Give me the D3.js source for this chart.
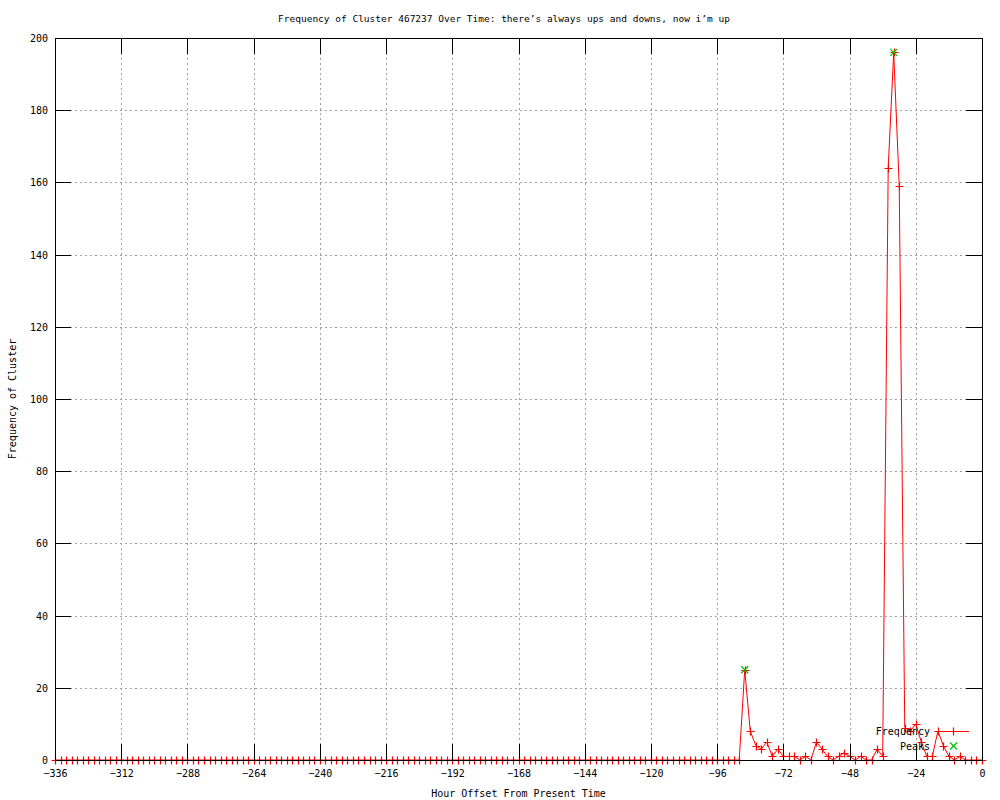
<!DOCTYPE html>
<html>
<head>
	<meta charset="utf-8">
	<title>Frequency of Cluster 467237</title>
	<style>
		body { margin: 0; background: #fff; }
		text { font-family: "DejaVu Sans Mono", monospace; font-size: 10px; fill: #000; }
	</style>
</head>
<body>
	<script src="https://d3js.org/d3.v7.min.js"></script>

<script>

	var width = 1000,
	height = 800,
	margin = {top: 38, right: 18, bottom: 40, left: 55},
	freqColor = "#ff0000",
	peakColor = "#00c000",
	gridColor = "#a0a0a0",
	tickLen = 16;

	// hours offset, every 2 hours from -336 up to 0
	var hours = d3.range(-336, 1, 2);

	// frequency per 2-hour bucket
	var frequency = [
		0,0,0,0,0, 0,0,0,0,0, 0,0,0,0,0, 0,0,0,0,0, 0,0,0,0,0,
		0,0,0,0,0, 0,0,0,0,0, 0,0,0,0,0, 0,0,0,0,0, 0,0,0,0,0,
		0,0,0,0,0, 0,0,0,0,0, 0,0,0,0,0, 0,0,0,0,0, 0,0,0,0,0,
		0,0,0,0,0, 0,0,0,0,0, 0,0,0,0,0, 0,0,0,0,0, 0,0,0,0,0,
		0,0,0,0,0, 0,0,0,0,0, 0,0,0,0,0, 0,0,0,0,0, 0,0,0,0,0,
		25,8,4,3,5, 1,3,1,1,1, 0,1,0,5,3, 1,0,1,2,1, 0,1,0,0,3,
		1,164,196,159,9, 8,10,5,1,1, 8,4,1,0,1, 0,0,0,0
	];

	var peakHours = [-86, -32],
	peakValues = [25, 196];

	var xTicks = [-336, -312, -288, -264, -240, -216, -192, -168, -144, -120, -96, -72, -48, -24, 0],
	yTicks = [0, 20, 40, 60, 80, 100, 120, 140, 160, 180, 200];

	var titleText = "Frequency of Cluster 467237 Over Time: there\u2019s always ups and downs, now i\u2019m up",
	xLabel = "Hour Offset From Present Time",
	yLabel = "Frequency of Cluster",
	legendNames = ["Frequency", "Peaks"];

	var x = d3.scaleLinear().domain([-336, 0]).range([margin.left, width - margin.right]),
	y = d3.scaleLinear().domain([0, 200]).range([height - margin.bottom, margin.top]);

	var svg = d3.select("body").append("svg")
		.attr("width", width)
		.attr("height", height);

	var plotL = x.range()[0], plotR = x.range()[1],
	plotT = y.range()[1], plotB = y.range()[0];

	//grid lines (dotted)
	var grid = svg.append("g").attr("shape-rendering", "crispEdges")
		.attr("stroke", gridColor).attr("stroke-dasharray", "2,3");
	grid.selectAll(".gx").data(xTicks.slice(1, -1)).enter().append("line")
		.attr("x1", function (d) { return Math.round(x(d)) + 0.5; })
		.attr("x2", function (d) { return Math.round(x(d)) + 0.5; })
		.attr("y1", plotT).attr("y2", plotB);
	grid.selectAll(".gy").data(yTicks.slice(1, -1)).enter().append("line")
		.attr("y1", function (d) { return Math.round(y(d)) + 0.5; })
		.attr("y2", function (d) { return Math.round(y(d)) + 0.5; })
		.attr("x1", plotL).attr("x2", plotR);

	//data line
	var pts = hours.map(function (h, i) { return [h, frequency[i]]; });
	var line = d3.line()
		.x(function (d) { return x(d[0]); })
		.y(function (d) { return y(d[1]); });

	svg.append("path").datum(pts)
		.attr("fill", "none")
		.attr("stroke", freqColor)
		.attr("stroke-width", 1)
		.attr("d", line);

	function plus(cx, cy) { return "M" + (cx - 4) + "," + cy + "H" + (cx + 4) + "M" + cx + "," + (cy - 4) + "V" + (cy + 4); }
	function cross(cx, cy) { return "M" + (cx - 3.5) + "," + (cy - 3.5) + "L" + (cx + 3.5) + "," + (cy + 3.5) + "M" + (cx - 3.5) + "," + (cy + 3.5) + "L" + (cx + 3.5) + "," + (cy - 3.5); }

	svg.append("g").selectAll("path").data(pts).enter().append("path")
		.attr("stroke", freqColor).attr("stroke-width", 1.2).attr("fill", "none")
		.attr("d", function (d) { return plus(Math.round(x(d[0])) + 0.5, Math.round(y(d[1])) + 0.5); });

	svg.append("g").selectAll("path").data(peakHours).enter().append("path")
		.attr("stroke", peakColor).attr("stroke-width", 1.2).attr("fill", "none")
		.attr("d", function (d, i) { return cross(x(d), y(peakValues[i])); });

	//axes with inward ticks on all four sides
	var xAxis = d3.axisBottom(x).tickValues(xTicks).tickSize(-tickLen).tickPadding(10).tickSizeOuter(0);
	var yAxis = d3.axisLeft(y).tickValues(yTicks).tickSize(-tickLen).tickPadding(7).tickSizeOuter(0);

	var gx = svg.append("g").attr("transform", "translate(0," + plotB + ")").call(xAxis);
	var gy = svg.append("g").attr("transform", "translate(" + plotL + ",0)").call(yAxis);
	var gx2 = svg.append("g").attr("transform", "translate(0," + plotT + ")").call(d3.axisTop(x).tickValues(xTicks).tickSize(-tickLen).tickFormat(""));
	var gy2 = svg.append("g").attr("transform", "translate(" + plotR + ",0)").call(d3.axisRight(y).tickValues(yTicks).tickSize(-tickLen).tickFormat(""));

	[gx, gy, gx2, gy2].forEach(function (g) {
		g.select(".domain").remove();
		g.selectAll("line").attr("stroke", "#000").attr("shape-rendering", "crispEdges");
		g.selectAll("text").attr("font-family", "DejaVu Sans Mono, monospace").attr("font-size", 10).attr("fill", "#000");
	});
	gx.selectAll("text").text(function (d) { return d < 0 ? "\u2212" + Math.abs(d) : d; }).attr("dy", "0.71em");
	gy.selectAll("text").attr("dy", "0.35em");

	//border
	svg.append("rect")
		.attr("x", plotL + 0.5).attr("y", plotT + 0.5)
		.attr("width", plotR - plotL).attr("height", plotB - plotT)
		.attr("fill", "none").attr("stroke", "#000").attr("shape-rendering", "crispEdges");

	//legend
	var legend = svg.append("g");
	legend.append("text").attr("x", 930).attr("y", 735).attr("text-anchor", "end").text(legendNames[0]);
	legend.append("line").attr("x1", 937).attr("x2", 969).attr("y1", 731.5).attr("y2", 731.5).attr("stroke", freqColor);
	legend.append("path").attr("stroke", freqColor).attr("stroke-width", 1.2).attr("d", plus(953.5, 731.5));
	legend.append("text").attr("x", 930).attr("y", 750).attr("text-anchor", "end").text(legendNames[1]);
	legend.append("path").attr("stroke", peakColor).attr("stroke-width", 1.2).attr("d", cross(953.5, 746));

	//titles
	svg.append("text").attr("x", 504).attr("y", 22).attr("text-anchor", "middle").style("font-size", "9.5px").text(titleText);
	svg.append("text").attr("x", (plotL + plotR) / 2).attr("y", 797).attr("text-anchor", "middle").text(xLabel);
	svg.append("text").attr("transform", "translate(16," + ((plotT + plotB) / 2) + ") rotate(-90)")
		.attr("text-anchor", "middle").text(yLabel);

</script>
</body>
</html>
